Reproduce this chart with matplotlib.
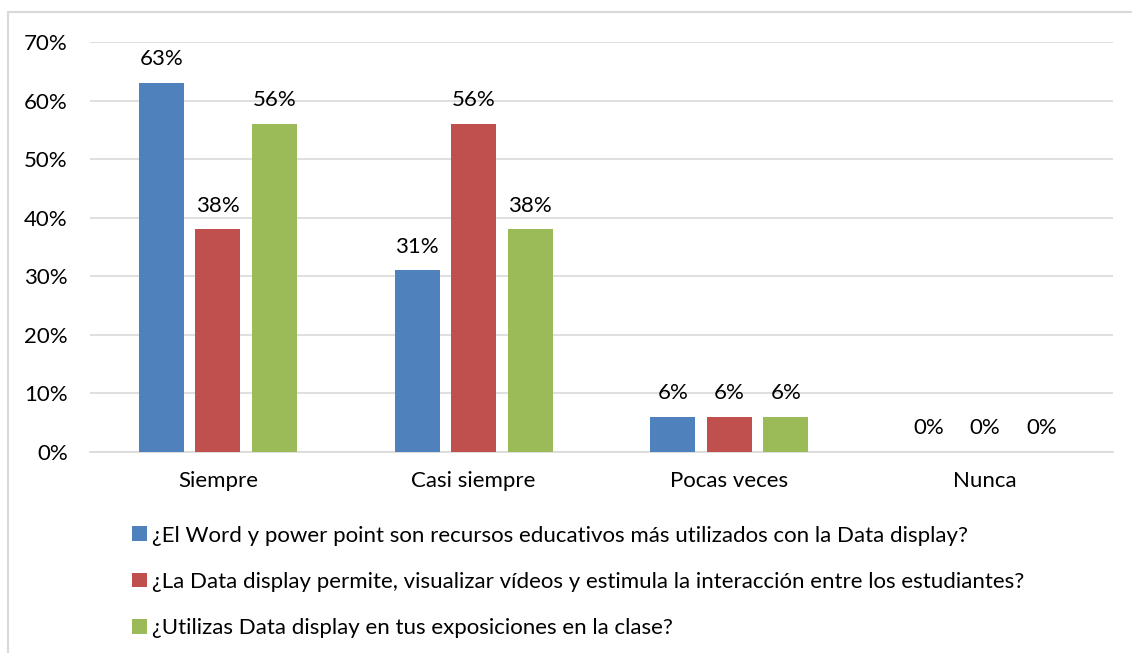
import matplotlib.pyplot as plt
import numpy as np
from matplotlib.patches import Rectangle

categories = ["Siempre", "Casi siempre", "Pocas veces", "Nunca"]
series_names = [
    "¿El Word y power point son recursos educativos más utilizados con la Data display?",
    "¿La Data display permite, visualizar vídeos y estimula la interacción entre los estudiantes?",
    "¿Utilizas Data display en tus exposiciones en la clase?",
]
word_ppt = [63, 31, 6, 0]
videos = [38, 56, 6, 0]
exposiciones = [56, 38, 6, 0]
colors = ["#4f81bd", "#c0504d", "#9bbb59"]

plt.rcParams['font.family'] = ['Lato', 'DejaVu Sans']
fs = 16

fig = plt.figure(figsize=(11.32, 6.53), dpi=100)
ax = fig.add_axes([0.0795, 0.3078, 0.9035, 0.6279])

x = np.arange(len(categories))
w = 0.176
offs = [-0.221, 0, 0.221]
bars = []
for vals, off, c, name in zip([word_ppt, videos, exposiciones], offs, colors, series_names):
    b = ax.bar(x + off, vals, w, color=c, label=name, zorder=3)
    bars.append(b)
    for xi, v in zip(x + off, vals):
        ax.annotate(f"{v}%", (xi, v), xytext=(0, 10), textcoords='offset points',
                    ha='center', va='bottom', fontsize=fs, color='#000000')

ax.set_xlim(-0.5, len(categories) - 0.5)
ax.set_ylim(0, 70)
ax.set_yticks(range(0, 71, 10))
ax.set_yticklabels([f"{t}%" for t in range(0, 71, 10)], fontsize=fs)
ax.set_xticks(x)
ax.set_xticklabels(categories, fontsize=fs)
ax.tick_params(axis='y', length=0, pad=16)
ax.tick_params(axis='x', length=0, pad=14)
ax.yaxis.grid(True, color='#d9d9d9', linewidth=1.2, zorder=0)
for s in ['top', 'right', 'left']:
    ax.spines[s].set_visible(False)
ax.spines['bottom'].set_color('#d9d9d9')
ax.spines['bottom'].set_linewidth(1.2)

fig.legend(handles=bars, loc='upper left', bbox_to_anchor=(0.117, 0.195),
           frameon=False, fontsize=fs, labelspacing=1.18,
           handlelength=0.65, handleheight=0.65, handletextpad=0.25,
           borderaxespad=0, borderpad=0)

fig.add_artist(Rectangle((8 / 1132, -0.01), 1.1, 1 - 12 / 653 + 0.01,
                         transform=fig.transFigure, fill=False,
                         edgecolor='#d9d9d9', linewidth=1.5))

fig.savefig("out.png", dpi=100)
